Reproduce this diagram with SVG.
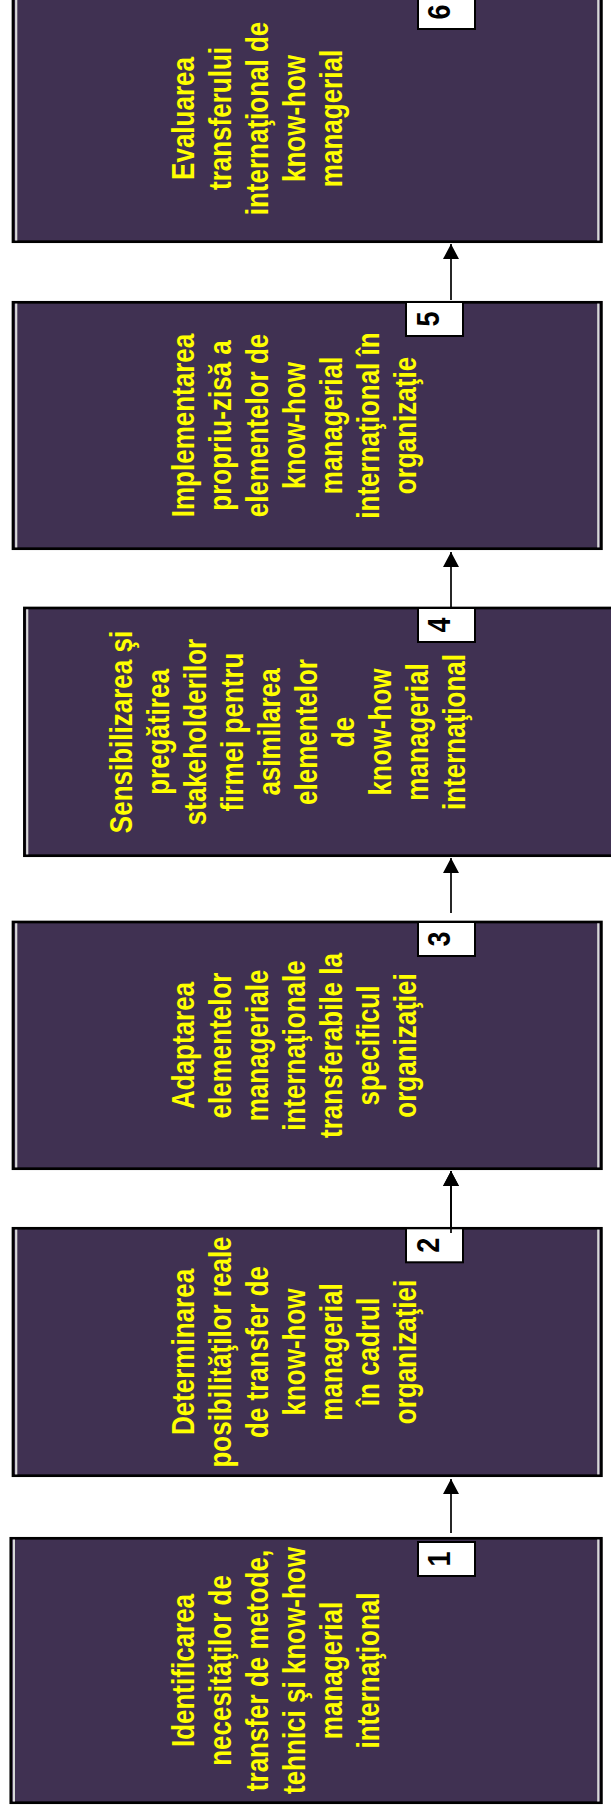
<svg xmlns="http://www.w3.org/2000/svg" width="611" height="1813" viewBox="0 0 611 1813">
<style>
.box{fill:#403152;stroke:#000;stroke-width:2.7}
.hl{stroke:#d8d8d8;stroke-width:2.2}
.nb{fill:#fff;stroke:#000;stroke-width:2}
.t{font-family:"Liberation Sans",Arial,sans-serif;font-weight:bold;font-size:26px;fill:#ffff00;text-anchor:middle}
.n{font-family:"Liberation Sans",Arial,sans-serif;font-weight:bold;font-size:27px;fill:#000;text-anchor:middle}
.c{stroke:#000;stroke-width:1.7;fill:none;marker-end:url(#ah)}
</style>
<defs>
<marker id="ah" markerUnits="userSpaceOnUse" markerWidth="16" markerHeight="16" viewBox="0 0 16 16" refX="15" refY="8" orient="auto">
<path d="M0,0 L15,8 L0,16 Z" fill="#000"/>
</marker>
</defs>
<rect width="611" height="1813" fill="#fff"/>
<g id="connectors">
<line class="c" x1="451" y1="1533" x2="451" y2="1479"/>
<line class="c" x1="451" y1="1233" x2="451" y2="1171"/>
<line class="c" x1="451" y1="913" x2="451" y2="858"/>
<line class="c" x1="451" y1="607" x2="451" y2="552"/>
<line class="c" x1="451" y1="300" x2="451" y2="244"/>
</g>
<g id="node6">
<rect class="box" x="13" y="-4.7" width="588.4" height="246.4"/>
<line class="hl" x1="16.2" y1="-4" x2="16.2" y2="240.5"/>
<line class="hl" x1="598.3" y1="-4" x2="598.3" y2="240.5"/>
<text class="t" transform="translate(194,118.5) rotate(-90) scale(1,1.22)"><tspan x="0" y="0">Evaluarea</tspan><tspan x="0" dy="30.33">transferului</tspan><tspan x="0" dy="30.33">internaţional de</tspan><tspan x="0" dy="30.33">know-how</tspan><tspan x="0" dy="30.33">managerial</tspan></text>
<rect class="nb" x="418" y="-5" width="57" height="34"/>
<text class="n" transform="translate(450,12) rotate(-90) scale(1,1.15)">6</text>
</g>
<g id="node5">
<rect class="box" x="13" y="302.3" width="588.4" height="246.4"/>
<line class="hl" x1="16.2" y1="303.6" x2="16.2" y2="547.4"/>
<line class="hl" x1="598.3" y1="303.6" x2="598.3" y2="547.4"/>
<text class="t" transform="translate(194,425.5) rotate(-90) scale(1,1.22)"><tspan x="0" y="0">Implementarea</tspan><tspan x="0" dy="30.33">propriu-zisă a</tspan><tspan x="0" dy="30.33">elementelor de</tspan><tspan x="0" dy="30.33">know-how</tspan><tspan x="0" dy="30.33">managerial</tspan><tspan x="0" dy="30.33">internaţional în</tspan><tspan x="0" dy="30.33">organizaţie</tspan></text>
<rect class="nb" x="406" y="302" width="57" height="34"/>
<text class="n" transform="translate(439,319) rotate(-90) scale(1,1.15)">5</text>
</g>
<g id="node4">
<rect class="box" x="24.4" y="608" width="600" height="247.7"/>
<line class="hl" x1="27.2" y1="609.3" x2="27.2" y2="854.4"/>
<text class="t" transform="translate(132,732) rotate(-90) scale(1,1.22)"><tspan x="0" y="0">Sensibilizarea şi</tspan><tspan x="0" dy="30.33">pregătirea</tspan><tspan x="0" dy="30.33">stakeholderilor</tspan><tspan x="0" dy="30.33">firmei pentru</tspan><tspan x="0" dy="30.33">asimilarea</tspan><tspan x="0" dy="30.33">elementelor</tspan><tspan x="0" dy="30.33">de</tspan><tspan x="0" dy="30.33">know-how</tspan><tspan x="0" dy="30.33">managerial</tspan><tspan x="0" dy="30.33">internaţional</tspan></text>
<rect class="nb" x="418" y="608" width="57" height="34"/>
<text class="n" transform="translate(450,625) rotate(-90) scale(1,1.15)">4</text>
</g>
<g id="node3">
<rect class="box" x="13" y="922" width="588.4" height="246.7"/>
<line class="hl" x1="16.2" y1="923.3" x2="16.2" y2="1167.4"/>
<line class="hl" x1="598.3" y1="923.3" x2="598.3" y2="1167.4"/>
<text class="t" transform="translate(194,1045.5) rotate(-90) scale(1,1.22)"><tspan x="0" y="0">Adaptarea</tspan><tspan x="0" dy="30.33">elementelor</tspan><tspan x="0" dy="30.33">manageriale</tspan><tspan x="0" dy="30.33">internaţionale</tspan><tspan x="0" dy="30.33">transferabile la</tspan><tspan x="0" dy="30.33">specificul</tspan><tspan x="0" dy="30.33">organizaţiei</tspan></text>
<rect class="nb" x="418" y="922" width="57" height="34"/>
<text class="n" transform="translate(450,939) rotate(-90) scale(1,1.15)">3</text>
</g>
<g id="node2">
<rect class="box" x="13" y="1228.3" width="588.4" height="247.4"/>
<line class="hl" x1="16.2" y1="1229.6" x2="16.2" y2="1474.4"/>
<line class="hl" x1="598.3" y1="1229.6" x2="598.3" y2="1474.4"/>
<text class="t" transform="translate(194,1352) rotate(-90) scale(1,1.22)"><tspan x="0" y="0">Determinarea</tspan><tspan x="0" dy="30.33">posibilităţilor reale</tspan><tspan x="0" dy="30.33">de transfer de</tspan><tspan x="0" dy="30.33">know-how</tspan><tspan x="0" dy="30.33">managerial</tspan><tspan x="0" dy="30.33">în cadrul</tspan><tspan x="0" dy="30.33">organizaţiei</tspan></text>
<rect class="nb" x="406" y="1228.3" width="57" height="34"/>
<text class="n" transform="translate(439,1245.3) rotate(-90) scale(1,1.15)">2</text>
<line class="c" x1="451" y1="1233" x2="451" y2="1171"/>
</g>
<g id="node1">
<rect class="box" x="10.8" y="1538.3" width="590.6" height="264.4"/>
<line class="hl" x1="13.9" y1="1539.6" x2="13.9" y2="1801.4"/>
<line class="hl" x1="598.3" y1="1539.6" x2="598.3" y2="1801.4"/>
<text class="t" transform="translate(194,1670.5) rotate(-90) scale(1,1.22)"><tspan x="0" y="0">Identificarea</tspan><tspan x="0" dy="30.33">necesităţilor de</tspan><tspan x="0" dy="30.33">transfer de metode,</tspan><tspan x="0" dy="30.33">tehnici şi know-how</tspan><tspan x="0" dy="30.33">managerial</tspan><tspan x="0" dy="30.33">internaţional</tspan></text>
<rect class="nb" x="418" y="1542" width="57" height="34"/>
<text class="n" transform="translate(450,1559) rotate(-90) scale(1,1.15)">1</text>
</g>
</svg>
